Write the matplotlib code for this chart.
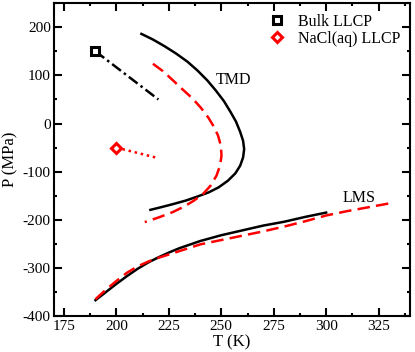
import matplotlib
matplotlib.use("Agg")
import matplotlib.pyplot as plt
from matplotlib.ticker import MultipleLocator

plt.rcParams['font.family'] = ['Liberation Serif', 'DejaVu Serif']
plt.rcParams['axes.unicode_minus'] = False

# TMD curves (T in K, P in MPa)
tmd_bulk_T = [211.9, 217.4, 222.9, 228.4, 233.9, 238.6, 243.3, 247.2, 251.2, 254.3, 257.0, 259.0, 260.4,
              260.9, 260.4, 259.0, 256.7, 253.2, 248.8, 244.1, 238.6, 233.1, 226.8, 221.3, 216.2]
tmd_bulk_P = [186.2, 174.5, 160.7, 145.5, 128.3, 110.3, 89.7, 69.6, 46.9, 24.8, 4.1, -17.3, -35.9,
              -53.1, -70.4, -87.6, -103.5, -118.6, -132.4, -142.8, -151.7, -160.0, -167.6, -173.8, -179.3]
tmd_nacl_T = [217.4, 222.1, 226.8, 231.5, 236.2, 240.2, 243.8, 246.5, 248.5, 249.8, 250.1, 249.4, 247.7,
              244.9, 241.3, 237.0, 232.3, 226.8, 220.5, 213.5]
tmd_nacl_P = [124.1, 109.0, 90.3, 71.0, 52.4, 33.1, 12.4, -6.9, -25.5, -46.2, -66.9, -87.6, -108.3,
              -129.0, -146.2, -160.0, -172.4, -184.1, -194.5, -204.8]

# LMS curves
lms_bulk_T = [190, 195, 200, 205, 210, 215, 220, 225, 230, 240, 250, 260, 270, 280, 290, 300]
lms_bulk_P = [-367, -350, -333, -317, -302, -289, -278, -268, -259, -244, -232, -222, -212, -204, -194, -185]
lms_nacl_T = [190, 195, 200, 205, 210, 215, 220, 225, 230, 240, 250, 260, 270, 280, 290, 300, 310, 320, 330]
lms_nacl_P = [-365, -345, -327, -310, -297, -287, -279, -272, -265, -251, -242, -233, -224, -214, -203,
              -191, -182, -174, -166]

# LLCP points and extension lines
llcp_bulk_T, llcp_bulk_P = [190], [150]
llcp_nacl_T, llcp_nacl_P = [200], [-50]
ext_bulk_T = [190, 220]
ext_bulk_P = [150, 50]
ext_nacl_T = [200, 220]
ext_nacl_P = [-50, -72]

fig = plt.figure(figsize=(4.15, 3.52), dpi=100)
ax = fig.add_axes([0.129, 0.102, 0.859, 0.889])

lw = 1.8
ax.plot(tmd_bulk_T, tmd_bulk_P, color='black', lw=lw, solid_joinstyle='round')
ax.plot(tmd_nacl_T, tmd_nacl_P, color='red', lw=lw, dashes=(5, 2.5))
ax.plot(lms_bulk_T, lms_bulk_P, color='black', lw=lw, solid_joinstyle='round')
ax.plot(lms_nacl_T, lms_nacl_P, color='red', lw=lw, dashes=(5, 2.5))
ax.plot(ext_bulk_T, ext_bulk_P, color='black', lw=lw, dashes=(4.4, 1.5, 1.0, 1.5))
ax.plot(ext_nacl_T, ext_nacl_P, color='red', lw=lw, dashes=(1.0, 1.5))

ax.plot(llcp_bulk_T, llcp_bulk_P, ls='none', marker='s', ms=5.5, mfc='white', mec='black', mew=2.2,
        label='Bulk LLCP')
ax.plot(llcp_nacl_T, llcp_nacl_P, ls='none', marker='D', ms=5.5, mfc='white', mec='red', mew=2.2,
        label='NaCl(aq) LLCP')

ax.text(256, 83, 'TMD', fontsize=11.5, ha='center', va='baseline')
ax.text(315.5, -163, 'LMS', fontsize=11.5, ha='center', va='baseline')

ax.set_xlim(170, 340)
ax.set_ylim(-400, 250)
ax.xaxis.set_major_locator(MultipleLocator(25))
ax.xaxis.set_minor_locator(MultipleLocator(12.5))
ax.yaxis.set_major_locator(MultipleLocator(100))
ax.yaxis.set_minor_locator(MultipleLocator(50))
ax.tick_params(which='both', direction='in', top=True, right=True, width=1.5, labelsize=11)
ax.tick_params(which='major', length=5.5)
ax.tick_params(axis='x', which='major', pad=3)
ax.tick_params(axis='y', which='major', pad=2)
ax.tick_params(which='minor', length=2.5)
for s in ax.spines.values():
    s.set_linewidth(1.5)

ax.set_xlabel('T (K)', fontsize=12, labelpad=1)
ax.set_ylabel('P (MPa)', fontsize=12, labelpad=3.5)

ax.legend(loc='upper left', bbox_to_anchor=(0.59, 0.984), frameon=False, fontsize=11.5,
          handlelength=1.0, handletextpad=0.8, labelspacing=0.05, borderaxespad=0.0,
          borderpad=0.35, numpoints=1)

fig.savefig('out.png', dpi=100)
